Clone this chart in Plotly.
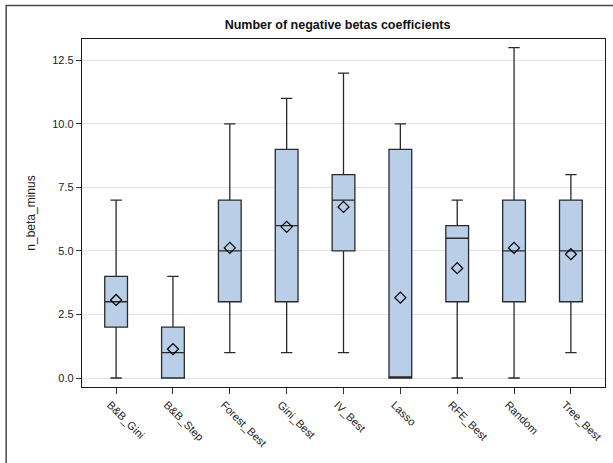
import plotly.graph_objects as go

categories = ["B&B_Gini", "B&B_Step", "Forest_Best", "Gini_Best", "IV_Best",
              "Lasso", "RFE_Best", "Random", "Tree_Best"]
mins = [0, 0, 1, 1, 1, 0, 0, 0, 1]
q1s = [2, 0, 3, 3, 5, 0, 3, 3, 3]
medians = [3, 1, 5, 6, 7, 0, 5.5, 5, 5]
q3s = [4, 2, 7, 9, 8, 9, 6, 7, 7]
maxs = [7, 4, 10, 11, 12, 10, 7, 13, 8]
means = [3.07, 1.14, 5.12, 5.95, 6.73, 3.16, 4.32, 5.12, 4.87]
y_ticks = [0.0, 2.5, 5.0, 7.5, 10.0, 12.5]

fig = go.Figure()
fig.add_trace(go.Box(
    x=categories, q1=q1s, median=medians, q3=q3s,
    lowerfence=mins, upperfence=maxs,
    fillcolor="#b8cfe7", line=dict(color="#2a2a2a", width=1.3),
    whiskerwidth=0.5, width=0.4, boxpoints=False, showlegend=False,
    hoverinfo="skip",
))
fig.add_trace(go.Scatter(
    x=categories, y=means, mode="markers",
    marker=dict(symbol="diamond-open", size=8.5, color="#000000",
                line=dict(width=1.2, color="#000000")),
    showlegend=False, hoverinfo="skip",
))

# outer frame
fig.add_shape(type="rect", xref="paper", yref="paper",
              x0=-0.145, x1=1.06, y0=-0.3, y1=1.0965,
              line=dict(color="#4a4a4a", width=1.5), fillcolor="rgba(0,0,0,0)",
              layer="below")

fig.update_layout(
    width=613, height=463,
    margin=dict(l=82, r=8, t=39, b=76),
    paper_bgcolor="white", plot_bgcolor="white",
    font=dict(family="Liberation Sans, Arial, sans-serif", size=11, color="#222222"),
    title=dict(text="<b>Number of negative betas coefficients</b>",
               x=0.5506, xref="container", xanchor="center",
               y=0.946, yref="container", yanchor="middle",
               font=dict(size=12.5, color="#111111")),
    xaxis=dict(range=[-0.6, 8.6], showline=True, linecolor="#1a1a1a", linewidth=1.3,
               mirror=True, ticks="outside", ticklen=6, tickcolor="#333333",
               tickangle=45, showgrid=False, zeroline=False, ticklabelshift=-6,
               tickfont=dict(size=11, color="#222222")),
    yaxis=dict(range=[-0.354, 13.34], showline=True, linecolor="#1a1a1a", linewidth=1.3,
               mirror=True, ticks="outside", ticklen=5, tickcolor="#333333",
               tickvals=y_ticks, ticktext=[f"{v:.1f}" for v in y_ticks],
               showgrid=True, gridcolor="#e3e3e3", gridwidth=1.3, zeroline=False,
               title=dict(text="n_beta_minus", font=dict(size=12, color="#222222"),
                          standoff=14),
               tickfont=dict(size=11, color="#222222")),
)

fig.write_html("out.html")
